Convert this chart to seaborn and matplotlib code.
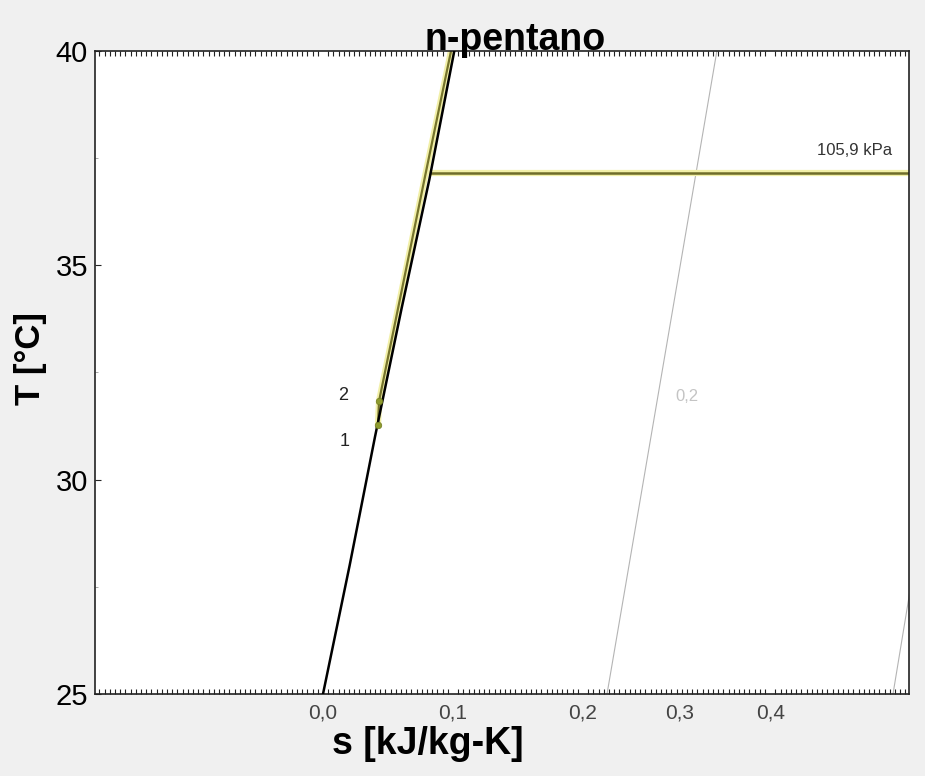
import pandas as pd
import seaborn as sns
import matplotlib.pyplot as plt
import matplotlib.patheffects as pe
from matplotlib.ticker import FixedLocator, MultipleLocator

# saturated liquid line of n-pentane (s in kJ/kg-K, T in C)
sat_liq_s = [0.0, 0.0205, 0.0400, 0.0605, 0.0818, 0.1010]
sat_liq_T = [25.0, 28.0, 31.0, 34.0, 37.0, 40.0]

# constant quality lines
x02_s = [0.2185, 0.3030]
x02_T = [25.0, 40.0]
x04_s = [0.4385, 0.5200]
x04_T = [25.0, 40.0]

# process path 1 -> 2 -> up
proc_s = [0.0423, 0.0431, 0.0598, 0.0790, 0.0985]
proc_T = [31.27, 31.83, 34.30, 37.15, 40.0]

# isobar 105,9 kPa through the dome
isobar_s = [0.0830, 0.4700]
isobar_T = [37.15, 37.15]

# state points
state_names = ["1", "2"]
state_s = [0.0423, 0.0431]
state_T = [31.27, 31.83]

# x tick labels (as placed in the original)
s_tick_pos = [0.0, 0.1, 0.2, 0.274, 0.344]
s_tick_lab = ["0,0", "0,1", "0,2", "0,3", "0,4"]
T_ticks = [25, 30, 35, 40]

sns.set_style("white")
plt.rcParams['font.family'] = ['Liberation Sans', 'DejaVu Sans']
plt.rcParams['text.color'] = 'black'
plt.rcParams['axes.labelcolor'] = 'black'

sat = pd.DataFrame({"s": sat_liq_s, "T": sat_liq_T})
q02 = pd.DataFrame({"s": x02_s, "T": x02_T})
q04 = pd.DataFrame({"s": x04_s, "T": x04_T})
proc = pd.DataFrame({"s": proc_s, "T": proc_T})
iso = pd.DataFrame({"s": isobar_s, "T": isobar_T})
states = pd.DataFrame({"name": state_names, "s": state_s, "T": state_T})

fig = plt.figure(figsize=(9.25, 7.76), dpi=100, facecolor="#f0f0f0")
ax = fig.add_axes([0.1027, 0.1057, 0.8800, 0.8286])
ax.set_facecolor("white")

halo = [pe.Stroke(linewidth=4.5, foreground="#f2f0a8"), pe.Normal()]

sns.lineplot(data=q02, x="s", y="T", sort=False, estimator=None, color="#b4b4b4", lw=0.8, ax=ax)
sns.lineplot(data=q04, x="s", y="T", sort=False, estimator=None, color="#b4b4b4", lw=0.8, ax=ax)
sns.lineplot(data=proc, x="s", y="T", sort=False, estimator=None, color="#76742c", lw=1.6, ax=ax)
ax.lines[-1].set_path_effects(halo)
sns.lineplot(data=iso, x="s", y="T", sort=False, estimator=None, color="#6f6d2a", lw=1.8, ax=ax)
ax.lines[-1].set_path_effects(halo)
sns.lineplot(data=sat, x="s", y="T", sort=False, estimator=None, color="black", lw=1.8, ax=ax)
ax.lines[-1].set_zorder(4)
sns.scatterplot(data=states, x="s", y="T", color="#8e9b2e", s=22, edgecolor="#6f7a20", linewidth=0.5, zorder=5, ax=ax)

# state labels
ax.text(0.0169, 30.90, "1", fontsize=13, color="#222222", ha="center", va="center")
ax.text(0.0154, 31.97, "2", fontsize=13, color="#222222", ha="center", va="center")
ax.text(0.409, 37.69, "105,9 kPa", fontsize=12, color="#333333", ha="center", va="center")
ax.text(0.280, 31.93, "0,2", fontsize=12, color="#c4c4c4", ha="center", va="center")

ax.set_xlim(-0.1754, 0.4508)
ax.set_ylim(25, 40)

ax.xaxis.set_major_locator(FixedLocator(s_tick_pos))
ax.set_xticklabels(s_tick_lab)
ax.xaxis.set_minor_locator(MultipleLocator(0.004))
ax.yaxis.set_major_locator(FixedLocator(T_ticks))
ax.set_yticklabels([str(t) for t in T_ticks])
ax.yaxis.set_minor_locator(MultipleLocator(2.5))

ax.tick_params(axis="x", which="both", direction="in", top=True, bottom=True,
               labelsize=15, labelcolor="#444444", pad=7)
ax.tick_params(axis="x", which="major", length=0)
ax.tick_params(axis="x", which="minor", length=3.5, width=0.8, color="#222222")
ax.tick_params(axis="y", which="both", direction="in", left=True, right=False,
               labelsize=21, labelcolor="black", pad=5)
ax.tick_params(axis="y", which="major", length=4, width=0.8)
ax.tick_params(axis="y", which="minor", length=2.5, width=0.6, color="#999999")

for sp in ax.spines.values():
    sp.set_color("#222222")
    sp.set_linewidth(1.2)

ax.set_xlabel("s [kJ/kg-K]", fontsize=27, fontweight="bold", color="black")
ax.xaxis.set_label_coords(0.409, -0.050)
ax.set_ylabel("T [°C]", fontsize=25, fontweight="bold", color="black")
ax.yaxis.set_label_coords(-0.059, 0.521)
ax.set_title("n-pentano", fontsize=27, fontweight="bold", color="black", x=0.516, y=1.002, pad=0)

fig.savefig("out.png", dpi=100, facecolor=fig.get_facecolor())
